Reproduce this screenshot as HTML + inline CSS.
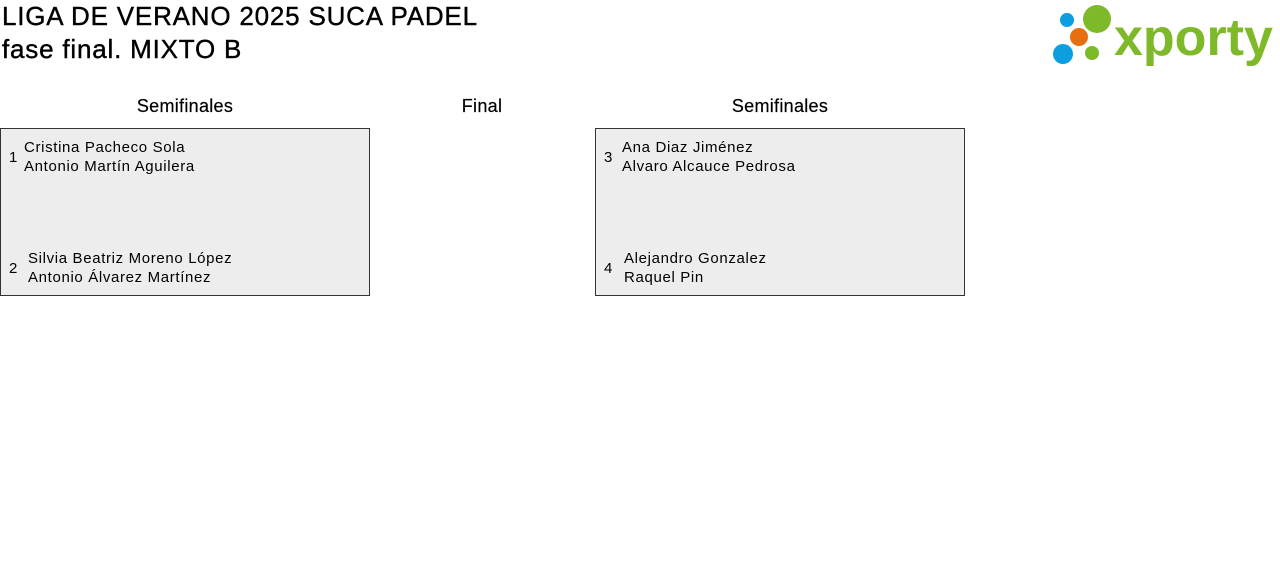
<!DOCTYPE html>
<html><head><meta charset="utf-8"><style>
body{margin:0;width:1280px;height:580px;background:#fff;font-family:"Liberation Sans",sans-serif;color:#000;position:relative;overflow:hidden}
.a{position:absolute;white-space:nowrap}
.t{font-size:26px;letter-spacing:0.8px;left:2px;-webkit-text-stroke:0.4px #000}
.h{font-size:18px;letter-spacing:0.3px;top:96px;text-align:center;-webkit-text-stroke:0.2px #000}
.box{position:absolute;top:128px;width:368px;height:166px;border:1px solid #333;background:#ededed}
.n{font-size:15px;letter-spacing:0.65px;line-height:19px}
</style></head><body>
<div class="a t" style="top:1px">LIGA DE VERANO 2025 SUCA PADEL</div>
<div class="a t" style="top:34px">fase final. MIXTO B</div>
<svg class="a" style="left:1048px;top:2px" width="230" height="66">
<circle cx="19" cy="18" r="7" fill="#0d9ee0"/>
<circle cx="49" cy="17" r="14" fill="#7db928"/>
<circle cx="31" cy="35" r="9" fill="#e6700f"/>
<circle cx="15" cy="52" r="10" fill="#0d9ee0"/>
<circle cx="44" cy="51" r="7" fill="#7db928"/>
<text x="66" y="53" font-family="Liberation Sans" font-weight="bold" font-size="52" fill="#7db928" letter-spacing="0">xporty</text>
</svg>
<div class="a h" style="left:85px;width:200px">Semifinales</div>
<div class="a h" style="left:382px;width:200px">Final</div>
<div class="a h" style="left:680px;width:200px">Semifinales</div>
<div class="box" style="left:0">
<div class="a n" style="left:8px;top:19px">1</div>
<div class="a n" style="left:23px;top:9px">Cristina Pacheco Sola<br>Antonio Martín Aguilera</div>
<div class="a n" style="left:8px;top:130px">2</div>
<div class="a n" style="left:27px;top:120px">Silvia Beatriz Moreno López<br>Antonio Álvarez Martínez</div>
</div>
<div class="box" style="left:595px">
<div class="a n" style="left:8px;top:19px">3</div>
<div class="a n" style="left:26px;top:9px">Ana Diaz Jiménez<br>Alvaro Alcauce Pedrosa</div>
<div class="a n" style="left:8px;top:130px">4</div>
<div class="a n" style="left:28px;top:120px">Alejandro Gonzalez<br>Raquel Pin</div>
</div>
</body></html>
